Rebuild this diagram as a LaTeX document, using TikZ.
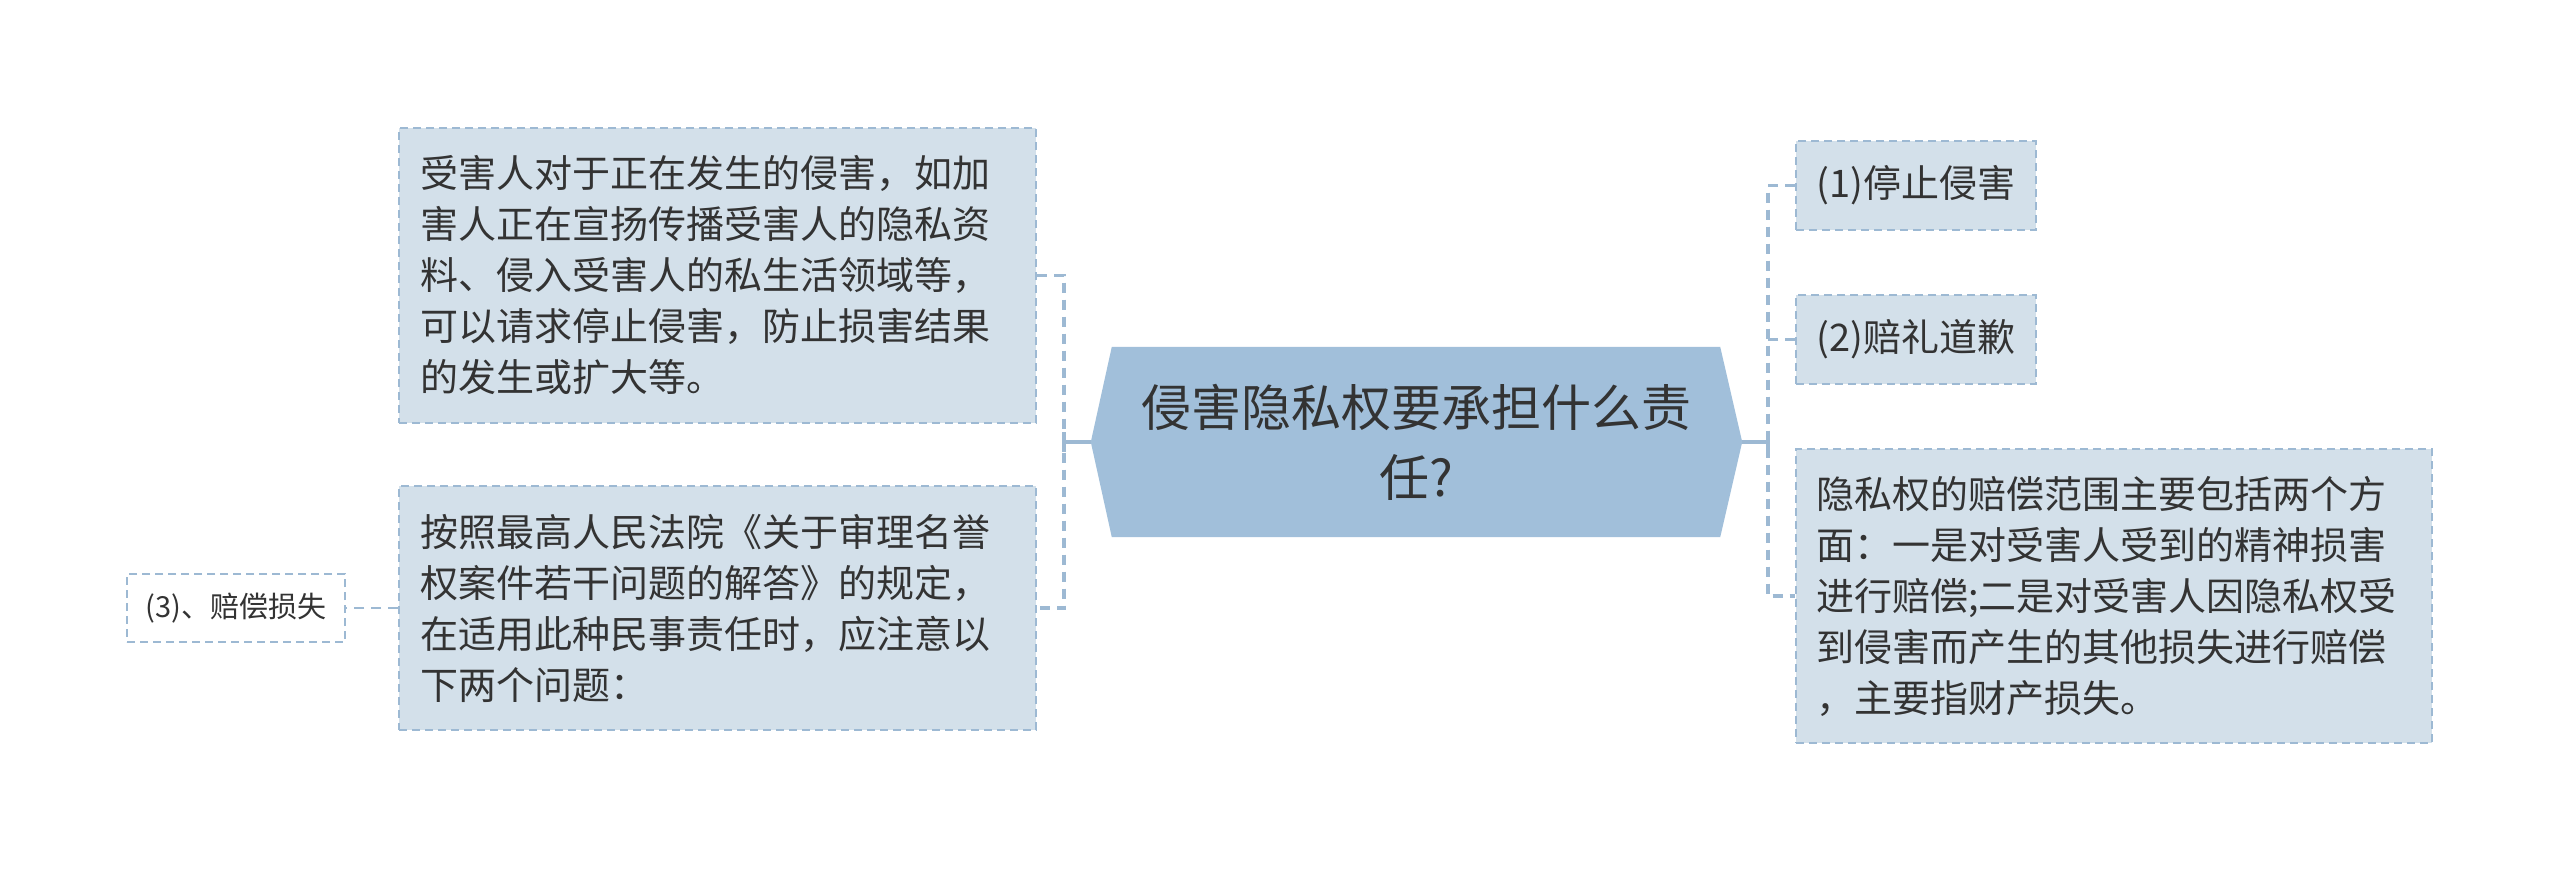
\documentclass[tikz,border=0pt]{standalone}
\usepackage{fontspec}
\setmainfont{Noto Sans CJK SC}
\definecolor{boxfill}{HTML}{D3E0EA}
\definecolor{lineblue}{HTML}{9DB9D3}
\definecolor{rootfill}{HTML}{A1BFDA}
\definecolor{txt}{HTML}{333333}
\begin{document}
\begin{tikzpicture}[x=1pt,y=-1pt,
  box/.style={draw=lineblue,fill=boxfill,line width=2pt,dash pattern=on 8pt off 5pt,
    inner sep=0pt,text=txt,align=left,font=\fontsize{38}{51}\selectfont},
  wbox/.style={draw=lineblue,fill=white,line width=2pt,dash pattern=on 8pt off 5pt,
    inner sep=0pt,text=txt,align=center,font=\fontsize{29}{36}\selectfont},
  conn/.style={draw=lineblue,line width=3.5pt,dash pattern=on 10pt off 7pt},
  stubline/.style={draw=lineblue,line width=3.5pt}]
\useasboundingbox[fill=white] (0,0) rectangle (2560,871);
% central node
\node[minimum width=608pt,minimum height=190pt,inner sep=0pt] (root) at (1416,442) {};
\coordinate (rootL) at ([xshift=-21pt]root.west);
\coordinate (rootR) at ([xshift=22pt]root.east);
\fill[rootfill] (root.north west) -- (root.north east) -- (rootR) -- (root.south east)
  -- (root.south west) -- (rootL) -- cycle;
\node[text=txt,align=center,font=\fontsize{50}{70}\selectfont] (roottext) at (root.center)
  {侵害隐私权要承担什么责\\任?};
% left boxes
\node[box,minimum width=637pt,minimum height=295pt,text width=595pt] (tl) at (717.5,275.5)
  {受害人对于正在发生的侵害，如加\\害人正在宣扬传播受害人的隐私资\\料、侵入受害人的私生活领域等，\\可以请求停止侵害，防止损害结果\\的发生或扩大等。};
\node[box,minimum width=637pt,minimum height=244pt,text width=595pt] (bl) at (717.5,608)
  {按照最高人民法院《关于审理名誉\\权案件若干问题的解答》的规定，\\在适用此种民事责任时，应注意以\\下两个问题：};
\node[wbox,minimum width=218pt,minimum height=68pt] (b3) at (236,608) {(3)、赔偿损失};
% right boxes
\node[box,align=center,minimum width=240pt,minimum height=89pt] (r1) at (1916,185.5) {(1)停止侵害};
\node[box,align=center,minimum width=240pt,minimum height=89pt] (r2) at (1916,339.5) {(2)赔礼道歉};
\node[box,minimum width=636pt,minimum height=294pt,text width=596pt] (r3) at (2114,596)
  {隐私权的赔偿范围主要包括两个方\\面：一是对受害人受到的精神损害\\进行赔偿;二是对受害人因隐私权受\\到侵害而产生的其他损失进行赔偿\\，主要指财产损失。};
% connectors
\coordinate (lj) at (1064,442);
\coordinate (rj) at (1768,442);
\draw[conn] (tl.east) -| (lj) |- (bl.east);
\draw[stubline] (lj) -- (rootL);
\draw[stubline] ([yshift=-10pt]lj) -- ([yshift=10pt]lj);
\draw[conn] (r1.west) -| (rj) |- (r3.west);
\draw[conn] (r2.west) -- (r2.west -| rj);
\draw[stubline] (rj) -- (rootR);
\draw[stubline] ([yshift=-10pt]rj) -- ([yshift=10pt]rj);
\draw[conn,line width=2pt] (bl.west) -- (b3.east);
\end{tikzpicture}
\end{document}
